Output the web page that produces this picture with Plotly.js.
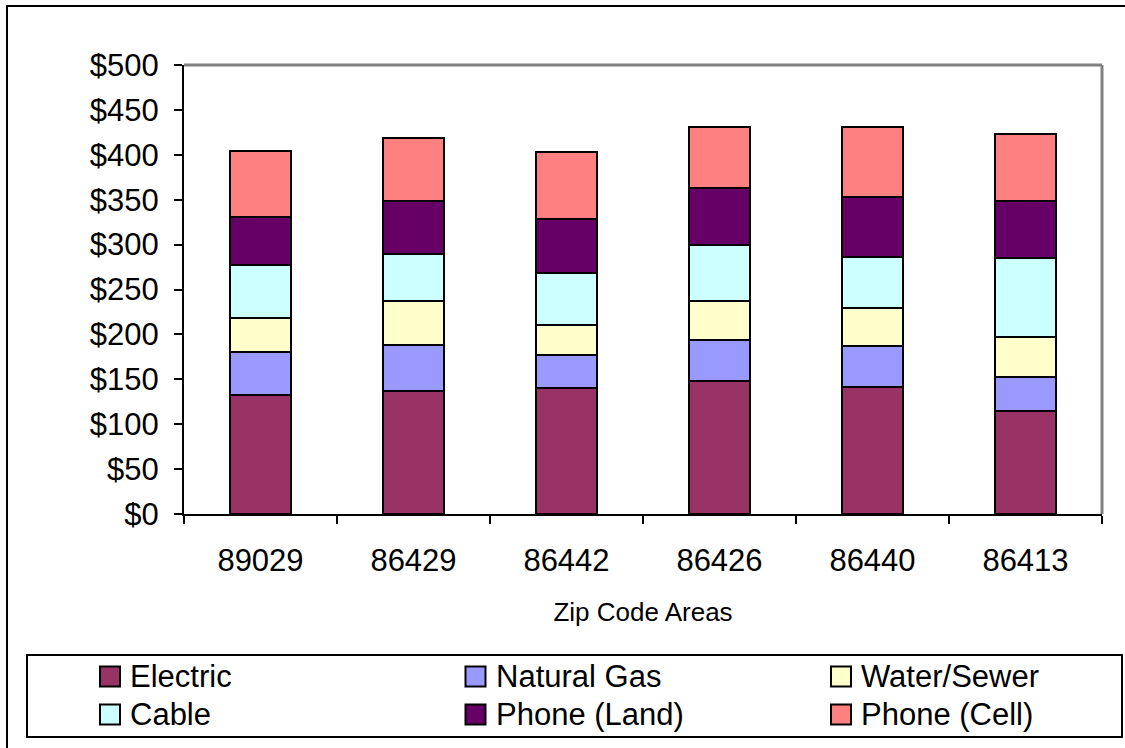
<!DOCTYPE html>
<html>
<head>
<meta charset="utf-8">
<script src="https://cdn.plot.ly/plotly-3.0.1.min.js"></script>
<style>
  html, body { margin: 0; padding: 0; background: #ffffff; }
  #chart { width: 1125px; height: 748px; }
</style>
</head>
<body>
<div id="chart"></div>
<script>
// Monthly utility costs by zip code area
const zipCodes = ['89029', '86429', '86442', '86426', '86440', '86413'];

const seriesNames = ['Electric', 'Natural Gas', 'Water/Sewer', 'Cable', 'Phone (Land)', 'Phone (Cell)'];
const seriesColors = ['#993366', '#9999FF', '#FFFFCC', '#CCFFFF', '#660066', '#FF8080'];

const electric   = [132, 137, 140, 148, 141, 115];
const naturalGas = [48, 51, 37, 46, 46, 38];
const waterSewer = [38, 49, 34, 43, 42, 44];
const cable      = [59, 52, 57, 63, 57, 88];
const phoneLand  = [54, 60, 61, 63, 67, 64];
const phoneCell  = [73, 70, 74, 68, 78, 74];

const seriesValues = [electric, naturalGas, waterSewer, cable, phoneLand, phoneCell];

const W = 1125, H = 748;
const M = { l: 184, r: 23, t: 65, b: 234 };
const plotW = W - M.l - M.r;
const plotH = H - M.t - M.b;
// pixel position -> paper fraction
const px = x => (x - M.l) / plotW;
const py = y => (H - M.b - y) / plotH;

const FONT = '"Liberation Sans", Arial, sans-serif';

const traces = seriesNames.map((name, i) => ({
  type: 'bar',
  name: name,
  x: zipCodes,
  y: seriesValues[i],
  width: 0.4,
  marker: { color: seriesColors[i], line: { color: '#000000', width: 2 } },
  hoverinfo: 'x+y+name'
}));

const shapes = [
  // plot area frame (top and right)
  { type: 'line', xref: 'paper', yref: 'paper', x0: 0, x1: 1, y0: 1, y1: 1,
    line: { color: '#808080', width: 3 }, layer: 'below' },
  { type: 'line', xref: 'paper', yref: 'paper', x0: 1, x1: 1, y0: 0, y1: 1,
    line: { color: '#808080', width: 3 }, layer: 'below' },
  // chart frame
  { type: 'rect', xref: 'paper', yref: 'paper',
    x0: px(7), x1: px(1140), y0: py(760), y1: py(6),
    line: { color: '#000000', width: 2 }, fillcolor: 'rgba(0,0,0,0)' },
  // legend box
  { type: 'rect', xref: 'paper', yref: 'paper',
    x0: px(27), x1: px(1122), y0: py(737), y1: py(655),
    line: { color: '#000000', width: 2 }, fillcolor: 'rgba(0,0,0,0)' }
];

const annotations = [];
const colX = [100, 465.5, 831];
const rowY = [676.5, 714.5];
const sw = 20;
seriesNames.forEach((name, i) => {
  const cx = colX[i % 3];
  const cy = rowY[Math.floor(i / 3)];
  shapes.push({
    type: 'rect', xref: 'paper', yref: 'paper',
    x0: px(cx), x1: px(cx + sw), y0: py(cy + sw / 2), y1: py(cy - sw / 2),
    fillcolor: seriesColors[i], line: { color: '#000000', width: 2 }
  });
  annotations.push({
    xref: 'paper', yref: 'paper', x: px(cx + sw + 8), y: py(cy),
    xanchor: 'left', yanchor: 'middle', showarrow: false,
    text: name, font: { family: FONT, size: 31, color: '#000000' }
  });
});

const layout = {
  width: W, height: H,
  margin: M,
  paper_bgcolor: '#ffffff',
  plot_bgcolor: '#ffffff',
  barmode: 'stack',
  showlegend: false,
  font: { family: FONT, color: '#000000', size: 31 },
  xaxis: {
    type: 'category',
    tickson: 'boundaries',
    ticks: 'outside', ticklen: 8, tickwidth: 2, tickcolor: '#000000',
    showline: true, linecolor: '#000000', linewidth: 2,
    showgrid: false, zeroline: false,
    tickfont: { family: FONT, size: 31, color: '#000000' },
    ticklabelstandoff: 18,
    title: { text: 'Zip Code Areas', font: { family: FONT, size: 26, color: '#000000' }, standoff: 26 }
  },
  yaxis: {
    range: [0, 500], dtick: 50, tick0: 0,
    tickprefix: '$',
    ticks: 'outside', ticklen: 8, tickwidth: 2, tickcolor: '#000000',
    showline: true, linecolor: '#000000', linewidth: 2,
    showgrid: false, zeroline: false,
    tickfont: { family: FONT, size: 31, color: '#000000' },
    ticklabelstandoff: 9
  },
  shapes: shapes,
  annotations: annotations
};

Plotly.newPlot('chart', traces, layout, { displayModeBar: false, staticPlot: true });
</script>
</body>
</html>
